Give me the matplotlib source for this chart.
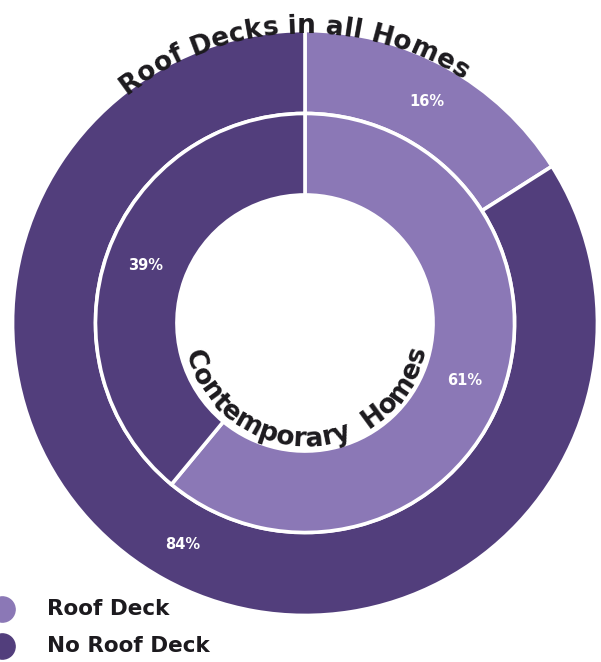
"""
Roof decks donut chart: all homes (outer ring) vs contemporary homes (inner ring).
"""
import numpy as np
import matplotlib
matplotlib.use("Agg")
import matplotlib.pyplot as plt
from matplotlib.font_manager import FontProperties

# ── data ─────────────────────────────────────────────────────────────
categories = ["Roof Deck", "No Roof Deck"]
all_homes = [16, 84]
contemporary = [61, 39]
outer_title = "Roof Decks in all Homes"
inner_title = "Contemporary  Homes"

LIGHT = "#8b78b6"
DARK = "#523e7c"
TEXT = "#1c1a1e"
FONT = "DejaVu Sans"


def char_width_px(renderer, ch, prop):
    """Advance width of one character in pixels (padded so spaces count)."""
    w1, _, _ = renderer.get_text_width_height_descent("x" + ch + "x", prop, ismath=False)
    w0, _, _ = renderer.get_text_width_height_descent("xx", prop, ismath=False)
    return w1 - w0


def curved_text(ax, text, radius, center_deg, fontsize, top=True, color=TEXT):
    """Place text letter by letter on a circle around (0, 0)."""
    fig = ax.figure
    renderer = fig.canvas.get_renderer()
    prop = FontProperties(family=FONT, weight="bold", size=fontsize)
    px_per_unit = ax.transData.transform((1, 0))[0] - ax.transData.transform((0, 0))[0]
    widths = [char_width_px(renderer, c, prop) / px_per_unit for c in text]
    total = sum(widths) / radius  # radians
    cum = 0.0
    for ch, w in zip(text, widths):
        offset = (cum + w / 2) / radius
        if top:
            ang = np.radians(center_deg) + total / 2 - offset
            rot = np.degrees(ang) - 90
        else:
            ang = np.radians(center_deg) - total / 2 + offset
            rot = np.degrees(ang) + 90
        cum += w
        if ch == " ":
            continue
        ax.text(radius * np.cos(ang), radius * np.sin(ang), ch,
                rotation=rot, rotation_mode="anchor", ha="center", va="baseline",
                fontproperties=prop, color=color)


def main() -> None:
    fig = plt.figure(figsize=(6.01, 6.62), dpi=100)
    ax = fig.add_axes([0, 0, 1, 1])
    R = 291.0
    cx, cy = 305.0, 323.0
    ax.set_xlim(-cx / R, (601 - cx) / R)
    ax.set_ylim((cy - 662) / R, cy / R)
    ax.axis("off")

    ring_edge = dict(edgecolor="white", linewidth=2.6)
    label_props = dict(color="white", fontsize=10.5, fontweight="bold", family=FONT)

    # outer ring: all homes
    ax.pie(all_homes, radius=1.005, colors=[LIGHT, DARK], startangle=90,
           counterclock=False, wedgeprops=dict(width=0.285, **ring_edge),
           autopct=lambda p: f"{p:.0f}%", pctdistance=0.865, textprops=label_props)

    # inner ring: contemporary homes
    ax.pie(contemporary, radius=0.72, colors=[LIGHT, DARK], startangle=90,
           counterclock=False, wedgeprops=dict(width=0.28, **ring_edge),
           autopct=lambda p: f"{p:.0f}%", pctdistance=0.81, textprops=label_props)

    ax.set_xlim(-cx / R, (601 - cx) / R)
    ax.set_ylim((cy - 662) / R, cy / R)
    ax.set_aspect("auto")

    # curved titles
    curved_text(ax, outer_title, 0.995, 92.5, 19, top=True)
    curved_text(ax, inner_title, 0.425, 271, 19, top=False)

    # legend, drawn by hand at bottom-left
    legend_y = [(cy - 609) / R, (cy - 646) / R]
    for cat, col, y in zip(categories, [LIGHT, DARK], legend_y):
        ax.scatter([(2 - cx) / R], [y], s=330, color=col, clip_on=False, zorder=3)
        ax.text((47 - cx) / R, y, cat, ha="left", va="center", fontsize=15.5,
                fontweight="bold", family=FONT, color=TEXT)

    fig.savefig("out.png", dpi=100)
    plt.close(fig)


if __name__ == "__main__":
    main()
